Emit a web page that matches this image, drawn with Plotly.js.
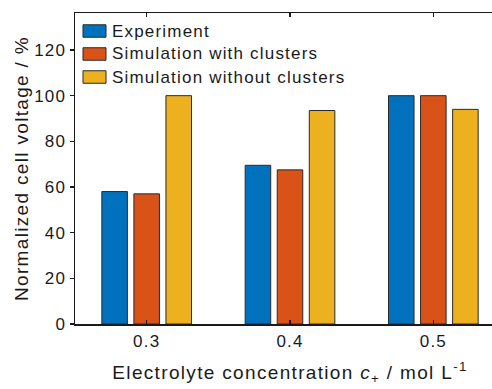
<!DOCTYPE html>
<html><head><meta charset="utf-8">
<script src="https://cdn.plot.ly/plotly-3.0.1.min.js"></script>
<style>
html,body{margin:0;padding:0;overflow:hidden;background:#fff;}
#chart{width:505px;height:389px;}
#chart .main-svg text{letter-spacing:0.07em;}
</style></head><body><div id="chart"></div>
<script>
const concentrations = [0.3, 0.4, 0.5];
const tickLabels = ['0.3', '0.4', '0.5'];
const yTicks = [0, 20, 40, 60, 80, 100, 120];
const seriesNames = ['Experiment', 'Simulation with clusters', 'Simulation without clusters'];
const experiment = [58, 69.5, 100];
const simWithClusters = [57, 67.5, 100];
const simWithoutClusters = [100, 93.5, 94];
const seriesValues = [experiment, simWithClusters, simWithoutClusters];
const colors = ['#0072BD', '#D95319', '#EDB120'];

const FONT = 'Liberation Sans, Arial, Helvetica, sans-serif';
const INK = '#1a1a1a';

const traces = seriesValues.map((vals, i) => ({
  type: 'bar', x: concentrations, y: vals, name: seriesNames[i],
  marker: {color: colors[i], line: {color: '#2b2b2b', width: 1}},
  showlegend: false, hoverinfo: 'skip'
}));

// custom legend (wide swatches like the reference)
const legX0 = 0.0186, legX1 = 0.0721, legTextX = 0.0837;
const legRows = [0.9421, 0.8682, 0.7942];
const legHalf = 0.0201;
const shapes = [], annotations = [];
seriesNames.forEach((name, i) => {
  shapes.push({type: 'rect', xref: 'paper', yref: 'paper', x0: legX0, x1: legX1,
    y0: legRows[i] - legHalf, y1: legRows[i] + legHalf,
    fillcolor: colors[i], line: {color: '#2b2b2b', width: 1}});
  annotations.push({xref: 'paper', yref: 'paper', x: legTextX, y: legRows[i],
    xanchor: 'left', yanchor: 'middle', text: name, showarrow: false,
    width: 280, align: 'left', borderpad: 0,
    font: {family: FONT, size: 17, color: INK}});
});

const layout = {
  width: 505, height: 389,
  margin: {l: 75, r: 0, t: 13, b: 65},
  paper_bgcolor: '#fff', plot_bgcolor: '#fff',
  barmode: 'group', bargap: 0.329, bargroupgap: 0.203,
  font: {family: FONT, size: 17, color: INK},
  xaxis: {
    range: [0.25, 0.55], tickvals: concentrations, ticktext: tickLabels,
    ticks: 'inside', ticklen: 4, tickwidth: 1.5, tickcolor: '#1a1a1a',
    showline: true, linecolor: '#1a1a1a', linewidth: 1.5, mirror: 'ticks',
    showgrid: false, zeroline: false, ticklabelstandoff: 1,
    tickfont: {family: FONT, size: 17, color: INK},
    title: {text: 'Electrolyte concentration <i>c</i><sub>+</sub> / mol L<sup>-1</sup>',
      font: {family: FONT, size: 19, color: INK}, standoff: 16}
  },
  yaxis: {
    range: [0, 136.2], tickvals: yTicks,
    ticks: 'outside', ticklen: 4, tickwidth: 1.5, tickcolor: '#1a1a1a',
    showline: true, linecolor: '#1a1a1a', linewidth: 1.5, mirror: true,
    showgrid: false, zeroline: false,
    tickfont: {family: FONT, size: 17, color: INK},
    title: {text: 'Normalized cell voltage / %',
      font: {family: FONT, size: 19, color: INK}, standoff: 4}
  },
  shapes: shapes, annotations: annotations
};

Plotly.newPlot('chart', traces, layout, {displayModeBar: false, staticPlot: true});
</script></body></html>
